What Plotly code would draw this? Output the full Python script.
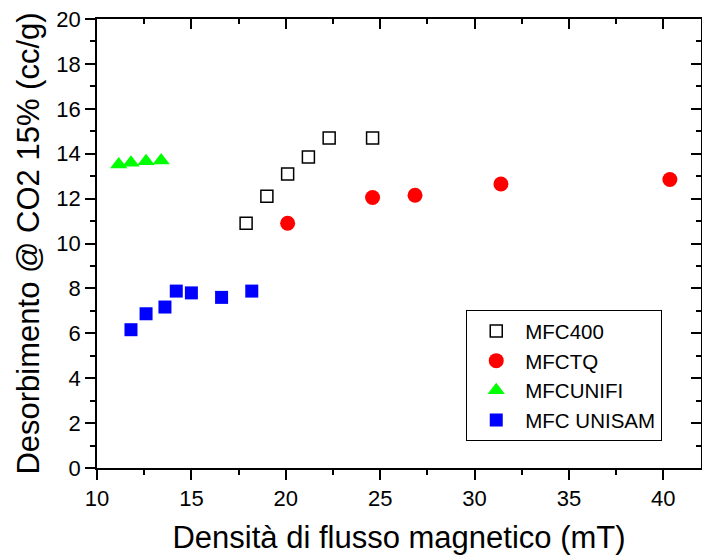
import plotly.graph_objects as go

# Data
mfc400_x = [17.9, 19.0, 20.1, 21.2, 22.3, 24.6]
mfc400_y = [10.9, 12.1, 13.1, 13.85, 14.7, 14.7]

mfctq_x = [20.1, 24.6, 26.85, 31.4, 40.35]
mfctq_y = [10.9, 12.05, 12.15, 12.65, 12.85]

mfcunifi_x = [11.15, 11.8, 12.6, 13.4]
mfcunifi_y = [13.52, 13.6, 13.66, 13.7]

unisam_x = [11.8, 12.6, 13.6, 14.2, 15.0, 16.6, 18.2]
unisam_y = [6.16, 6.87, 7.17, 7.88, 7.8, 7.6, 7.88]

x_range = [10, 42]
y_range = [0, 20]

FONT = "Arial, Liberation Sans, sans-serif"

fig = go.Figure()
fig.add_trace(go.Scatter(x=mfc400_x, y=mfc400_y, mode="markers", name="MFC400",
                         marker=dict(symbol="square-open", size=12, color="black",
                                     line=dict(width=1.5, color="black"))))
fig.add_trace(go.Scatter(x=mfctq_x, y=mfctq_y, mode="markers", name="MFCTQ",
                         marker=dict(symbol="circle", size=15, color="#FF0000")))
fig.add_trace(go.Scatter(x=mfcunifi_x, y=mfcunifi_y, mode="markers", name="MFCUNIFI",
                         marker=dict(symbol="triangle-up", size=15, color="#00FF00")))
fig.add_trace(go.Scatter(x=unisam_x, y=unisam_y, mode="markers", name="MFC UNISAM",
                         marker=dict(symbol="square", size=13, color="#0000FF")))
# empty trace to carry the mirrored (top/right) axes
fig.add_trace(go.Scatter(x=[], y=[], xaxis="x2", yaxis="y2", showlegend=False,
                         hoverinfo="skip"))

axis_common = dict(showline=True, linecolor="black", linewidth=1.5, showgrid=False,
                   zeroline=False, tickcolor="black", tickwidth=1.5, ticklen=10)

fig.update_layout(
    width=702, height=556,
    margin=dict(l=97, r=1, t=19, b=88),
    paper_bgcolor="white", plot_bgcolor="white",
    font=dict(family=FONT, color="black"),
    xaxis=dict(range=x_range, tick0=10, dtick=5, ticks="outside",
               tickfont=dict(size=22),
               minor=dict(dtick=2.5, ticks="outside", ticklen=5, tickcolor="black", tickwidth=1.5),
               title=dict(text="Densità di flusso magnetico (mT)", font=dict(size=31), standoff=16),
               **axis_common),
    yaxis=dict(range=y_range, tick0=0, dtick=2, ticks="outside",
               tickfont=dict(size=22),
               minor=dict(dtick=1, ticks="outside", ticklen=5, tickcolor="black", tickwidth=1.5),
               title=dict(text="Desorbimento @ CO2 15% (cc/g)", font=dict(size=31), standoff=8),
               **axis_common),
    xaxis2=dict(range=x_range, overlaying="x", side="top", anchor="y", tick0=10, dtick=5,
                ticks="inside", showticklabels=False,
                minor=dict(dtick=2.5, ticks="inside", ticklen=5, tickcolor="black", tickwidth=1.5),
                **axis_common),
    yaxis2=dict(range=y_range, overlaying="y", side="right", anchor="x", tick0=0, dtick=2,
                ticks="inside", showticklabels=False,
                minor=dict(dtick=1, ticks="inside", ticklen=5, tickcolor="black", tickwidth=1.5),
                **axis_common),
    legend=dict(x=0.611, y=0.352, xanchor="left", yanchor="top",
                bgcolor="white", bordercolor="black", borderwidth=1.2,
                itemwidth=48,
                font=dict(size=20.5, family=FONT), tracegroupgap=0),
    showlegend=True,
)

fig.write_html("out.html")
